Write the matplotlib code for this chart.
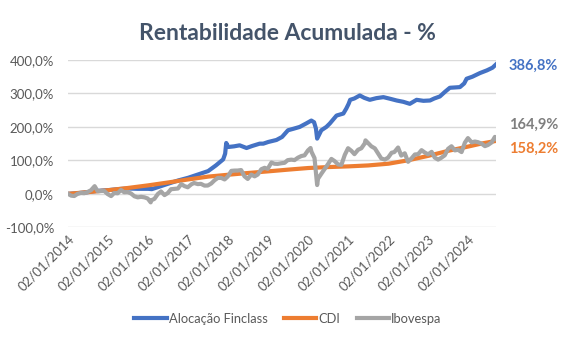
import matplotlib
matplotlib.use("Agg")
import matplotlib.pyplot as plt
import matplotlib.ticker as mticker
import pandas as pd

# ---------------- data ----------------
title = "Rentabilidade Acumulada - %"
series_names = ["Alocação Finclass", "CDI", "Ibovespa"]

finclass_dates = [
    "2014-01-02", "2014-04-01", "2014-07-01", "2014-10-01", "2015-01-02", "2015-04-01",
    "2015-07-01", "2015-10-01", "2016-01-04", "2016-02-05", "2016-04-01", "2016-07-01",
    "2016-10-03", "2017-01-02", "2017-04-03", "2017-07-03", "2017-09-12", "2017-11-17",
    "2017-12-05", "2017-12-15", "2018-01-02", "2018-02-25", "2018-04-16", "2018-06-18",
    "2018-08-08", "2018-10-16", "2018-11-18", "2019-01-02", "2019-03-18", "2019-05-08",
    "2019-07-01", "2019-08-25", "2019-10-16", "2019-12-12", "2020-01-30", "2020-02-24",
    "2020-03-12", "2020-03-23", "2020-04-30", "2020-06-15", "2020-07-16", "2020-09-16",
    "2020-11-17", "2020-12-14", "2021-01-04", "2021-01-18", "2021-02-25", "2021-04-16",
    "2021-05-26", "2021-07-16", "2021-09-14", "2021-11-17", "2022-01-19", "2022-03-18",
    "2022-05-18", "2022-07-16", "2022-09-16", "2022-11-17", "2023-01-16", "2023-02-24",
    "2023-04-16", "2023-06-02", "2023-07-16", "2023-09-02", "2023-10-16", "2023-11-24",
    "2023-12-16", "2024-02-06", "2024-04-16", "2024-06-18", "2024-08-08", "2024-09-09",
]
finclass_values = [
    0, 2, 5, 9, 11, 14,
    16, 15, 15, 14, 20, 30,
    40, 48, 58, 68, 85, 103,
    120, 152, 140, 142, 145, 137,
    143, 150, 150, 155, 161, 170,
    190, 195, 200, 210, 219, 214,
    195, 165, 190, 200, 210, 234,
    240, 255, 269, 281, 285, 294,
    287, 281, 286, 289, 284, 279,
    275, 269, 281, 278, 279, 285,
    291, 305, 317, 318, 319, 330,
    344, 350, 361, 369, 377, 386.8,
]

cdi_dates = [
    "2014-01-02", "2014-07-01", "2015-01-02", "2015-07-01", "2016-01-04", "2016-07-01",
    "2017-01-02", "2017-07-03", "2018-01-02", "2018-07-02", "2019-01-02", "2019-07-01",
    "2020-01-02", "2020-07-01", "2021-01-04", "2021-07-01", "2022-01-03", "2022-07-01",
    "2023-01-02", "2023-07-03", "2024-01-02", "2024-05-02", "2024-09-09",
]
cdi_values = [
    0, 5.1, 10.8, 17.5, 25.4, 33.9,
    43.0, 51.5, 57.1, 62.3, 67.2, 72.3,
    77.2, 80.0, 82.1, 84.9, 90.1, 100.3,
    113.7, 128.7, 141.5, 150.5, 158.2,
]

ibov_dates = [
    "2014-01-02", "2014-01-31", "2014-02-28", "2014-03-31", "2014-04-30", "2014-05-30",
    "2014-06-30", "2014-07-31", "2014-08-29", "2014-09-02", "2014-09-30", "2014-10-31",
    "2014-11-28", "2014-12-30", "2015-01-30", "2015-02-27", "2015-03-31", "2015-04-30",
    "2015-05-29", "2015-06-30", "2015-07-31", "2015-08-31", "2015-09-30", "2015-10-30",
    "2015-11-30", "2015-12-30", "2016-01-26", "2016-01-29", "2016-02-29", "2016-03-31",
    "2016-04-29", "2016-05-31", "2016-06-30", "2016-07-29", "2016-08-31", "2016-09-30",
    "2016-10-31", "2016-11-30", "2016-12-29", "2017-01-31", "2017-02-24", "2017-03-31",
    "2017-04-28", "2017-05-31", "2017-06-30", "2017-07-31", "2017-08-31", "2017-09-29",
    "2017-10-31", "2017-11-30", "2017-12-29", "2018-01-31", "2018-02-28", "2018-03-29",
    "2018-04-30", "2018-05-30", "2018-06-29", "2018-07-31", "2018-08-31", "2018-09-28",
    "2018-10-31", "2018-11-30", "2018-12-28", "2019-01-31", "2019-02-28", "2019-03-29",
    "2019-04-30", "2019-05-31", "2019-06-28", "2019-07-31", "2019-08-30", "2019-09-30",
    "2019-10-31", "2019-11-29", "2019-12-30", "2020-01-23", "2020-01-31", "2020-02-28",
    "2020-03-23", "2020-03-31", "2020-04-30", "2020-05-29", "2020-06-30", "2020-07-31",
    "2020-08-31", "2020-09-30", "2020-10-30", "2020-11-30", "2020-12-30", "2021-01-29",
    "2021-02-26", "2021-03-31", "2021-04-30", "2021-05-31", "2021-06-07", "2021-06-30",
    "2021-07-30", "2021-08-31", "2021-09-30", "2021-10-29", "2021-11-30", "2021-12-30",
    "2022-01-31", "2022-02-25", "2022-03-31", "2022-04-29", "2022-05-31", "2022-06-30",
    "2022-07-29", "2022-08-31", "2022-09-30", "2022-10-31", "2022-11-30", "2022-12-29",
    "2023-01-31", "2023-02-28", "2023-03-31", "2023-04-28", "2023-05-31", "2023-06-30",
    "2023-07-31", "2023-08-31", "2023-09-29", "2023-10-31", "2023-11-30", "2023-12-28",
    "2024-01-31", "2024-02-29", "2024-03-28", "2024-04-30", "2024-05-31", "2024-06-28",
    "2024-07-31", "2024-08-30", "2024-09-09",
]
ibov_values = [
    0, -5.4, -6.5, 0.1, 2.6, 1.8,
    5.6, 10.9, 21.7, 23.0, 7.5, 8.5,
    8.7, -0.7, -6.8, 2.5, 1.6, 11.7,
    4.8, 5.4, 1.0, -7.4, -10.5, -8.9,
    -10.4, -13.9, -25.5, -19.7, -15.0, -0.6,
    7.1, -3.7, 2.4, 13.8, 15.0, 15.9,
    29.0, 23.0, 19.6, 28.5, 32.4, 29.1,
    29.9, 24.6, 24.9, 30.9, 40.7, 47.6,
    47.6, 43.0, 51.8, 68.7, 69.5, 69.6,
    71.1, 52.5, 44.5, 57.4, 52.3, 57.6,
    73.7, 77.8, 74.6, 93.5, 89.9, 89.5,
    91.4, 92.7, 100.6, 102.2, 100.9, 108.1,
    113.0, 115.0, 129.7, 137.0, 126.0, 106.9,
    26.3, 45.1, 59.9, 73.6, 88.8, 104.4,
    97.4, 87.9, 86.6, 116.3, 136.4, 128.6,
    118.6, 131.7, 136.2, 150.7, 159.8, 151.9,
    142.0, 136.0, 120.5, 105.6, 102.4, 108.2,
    122.8, 124.8, 138.4, 114.3, 121.2, 95.7,
    104.9, 117.6, 118.6, 130.5, 123.4, 118.0,
    125.5, 108.4, 102.4, 107.5, 115.2, 134.6,
    142.2, 129.9, 131.6, 124.8, 152.9, 166.6,
    153.8, 156.3, 154.5, 150.1, 142.5, 146.1,
    153.6, 170.2, 164.9,
]

x_tick_labels = ["02/01/%d" % y for y in range(2014, 2025)]
y_ticks = [-100, 0, 100, 200, 300, 400]

# ---------------- style ----------------
BLUE = "#4472C4"
ORANGE = "#ED7D31"
GRAY = "#A5A5A5"
TXT = "#595959"
FONT = ["Lato", "DejaVu Sans"]
plt.rcParams["font.family"] = FONT

fig = plt.figure(figsize=(5.66, 3.46), dpi=100)
fig.patch.set_facecolor("white")
ax = fig.add_axes([68 / 566, 1 - 227.3 / 346, 428 / 566, (227.3 - 60) / 346])

fd = pd.to_datetime(finclass_dates)
cd = pd.to_datetime(cdi_dates)
idt = pd.to_datetime(ibov_dates)

lw = 3.0
ax.plot(fd, finclass_values, color=BLUE, lw=lw, solid_joinstyle="round", label=series_names[0], zorder=3)
ax.plot(cd, cdi_values, color=ORANGE, lw=lw, solid_joinstyle="round", label=series_names[1], zorder=4)
ax.plot(idt, ibov_values, color=GRAY, lw=lw, solid_joinstyle="round", label=series_names[2], zorder=5)

ax.set_ylim(-100, 400)
ax.set_yticks(y_ticks)
ax.yaxis.set_major_formatter(mticker.FuncFormatter(lambda v, p: ("%.1f%%" % v).replace(".", ",")))
ax.set_xlim(pd.Timestamp("2014-01-02"), pd.Timestamp("2024-09-09"))
tick_pos = pd.to_datetime(["%d-01-02" % y for y in range(2014, 2025)])
ax.set_xticks(tick_pos)
ax.set_xticklabels(x_tick_labels, rotation=45, ha="right", rotation_mode="anchor")

ax.grid(axis="y", color="#D9D9D9", lw=1.0)
ax.set_axisbelow(True)
for s in ax.spines.values():
    s.set_visible(False)
ax.tick_params(axis="both", length=0, colors=TXT, labelsize=9.5)
ax.tick_params(axis="y", pad=10)
ax.tick_params(axis="x", pad=4)

fig.text(287 / 566, 1 - 33 / 346, title, ha="center", va="center",
         fontsize=16.5, fontweight="bold", color="#44546A")

def fmt(v):
    return ("%.1f%%" % v).replace(".", ",")

fig.text(509 / 566, 1 - 66 / 346, fmt(finclass_values[-1]), ha="left", va="center",
         fontsize=10.5, fontweight="bold", color=BLUE)
fig.text(509 / 566, 1 - 125 / 346, fmt(ibov_values[-1]), ha="left", va="center",
         fontsize=10.5, fontweight="bold", color="#7F7F7F")
fig.text(509 / 566, 1 - 149 / 346, fmt(cdi_values[-1]), ha="left", va="center",
         fontsize=10.5, fontweight="bold", color=ORANGE)

leg = fig.legend(loc="center", bbox_to_anchor=(288 / 566, 1 - 319 / 346), ncol=3,
                 frameon=False, fontsize=9.3, handlelength=2.5, handletextpad=0.15,
                 columnspacing=1.3)
for t in leg.get_texts():
    t.set_color(TXT)

fig.savefig("out.png", dpi=100, facecolor="white")
